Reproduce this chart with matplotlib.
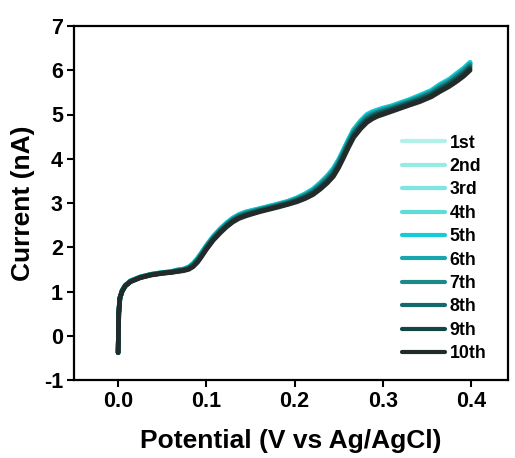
import numpy as np
import matplotlib
matplotlib.use('Agg')
import matplotlib.pyplot as plt

plt.rcParams['font.family'] = ['Liberation Sans', 'DejaVu Sans']
plt.rcParams['font.weight'] = 'bold'
plt.rcParams['axes.unicode_minus'] = False

# 10th cycle
potential = [0.000, 0.0003, 0.0007, 0.002, 0.0045, 0.008, 0.014, 0.025, 0.037, 0.050,
             0.060, 0.067, 0.074, 0.080, 0.085, 0.090, 0.095, 0.100, 0.108, 0.116,
             0.123, 0.130, 0.137, 0.145, 0.160, 0.180, 0.193, 0.203, 0.212, 0.221,
             0.229, 0.237, 0.244, 0.250, 0.255, 0.261, 0.267, 0.275, 0.282, 0.288,
             0.294, 0.300, 0.310, 0.320, 0.330, 0.342, 0.355, 0.365, 0.375, 0.384,
             0.392, 0.399]
current_10th = [-0.38, -0.10, 0.50, 0.85, 1.00, 1.12, 1.22, 1.31, 1.37, 1.41,
                1.43, 1.45, 1.47, 1.50, 1.56, 1.66, 1.80, 1.95, 2.16, 2.33,
                2.46, 2.57, 2.65, 2.71, 2.80, 2.90, 2.97, 3.03, 3.10, 3.19,
                3.31, 3.45, 3.60, 3.80, 4.00, 4.25, 4.48, 4.68, 4.82, 4.90,
                4.96, 5.00, 5.07, 5.14, 5.21, 5.29, 5.40, 5.52, 5.63, 5.75,
                5.87, 6.00]
# how much of the upper-end gap between cycles shows at each point
gap_profile = [0, 0, 0, 0, 0.1, 0.1, 0.1, 0.1, 0.1, 0.1,
               0.1, 0.2, 0.2, 0.3, 0.4, 0.5, 0.5, 0.5, 0.5, 0.5,
               0.5, 0.5, 0.5, 0.5, 0.4, 0.4, 0.4, 0.5, 0.6, 0.7,
               0.8, 0.9, 1.0, 1.0, 1.0, 1.0, 1.0, 1.0, 1.0, 0.9,
               0.8, 0.8, 0.7, 0.7, 0.7, 0.8, 0.8, 0.9, 0.9, 1.0,
               1.0, 1.0]
# gap above the 10th cycle at the upper end (nA)
cycle_gap = [0.15, 0.16, 0.16, 0.17, 0.18, 0.14, 0.11, 0.08, 0.04, 0.0]
labels = ['1st', '2nd', '3rd', '4th', '5th', '6th', '7th', '8th', '9th', '10th']
colors = ['#b2f0ea', '#94ece6', '#7de6e0', '#5edcd8', '#14ccd8',
          '#17a5ae', '#1e8888', '#146a6a', '#134545', '#222a2a']

fig = plt.figure(figsize=(5.15, 4.58), dpi=100)
ax = fig.add_axes([74 / 515, 78 / 458, 434 / 515, 354 / 458])

base = np.array(current_10th)
prof = np.array(gap_profile)
for g, lab, c in zip(cycle_gap, labels, colors):
    ax.plot(potential, base + g * prof, color=c, lw=3.4, label=lab,
            solid_capstyle='round', solid_joinstyle='round')

ax.set_xlim(-0.05, 0.442)
ax.set_ylim(-1, 7)
ax.set_xticks([0.0, 0.1, 0.2, 0.3, 0.4])
ax.set_yticks(range(-1, 8))
ax.tick_params(direction='out', length=5, width=1.5, labelsize=15.5, pad=3)
for s in ax.spines.values():
    s.set_linewidth(1.6)
ax.set_xlabel('Potential (V vs Ag/AgCl)', fontsize=19, fontweight='bold', labelpad=12)
ax.set_ylabel('Current (nA)', fontsize=19, fontweight='bold', labelpad=6)

leg = ax.legend(loc='upper left', bbox_to_anchor=(0.756, 0.693), frameon=False,
                prop={'size': 12.8, 'weight': 'bold'}, handlelength=2.4,
                handletextpad=0.28, labelspacing=0.36, borderpad=0, borderaxespad=0)
for h in leg.get_lines():
    h.set_linewidth(3.0)

fig.savefig('out.png', dpi=100)
